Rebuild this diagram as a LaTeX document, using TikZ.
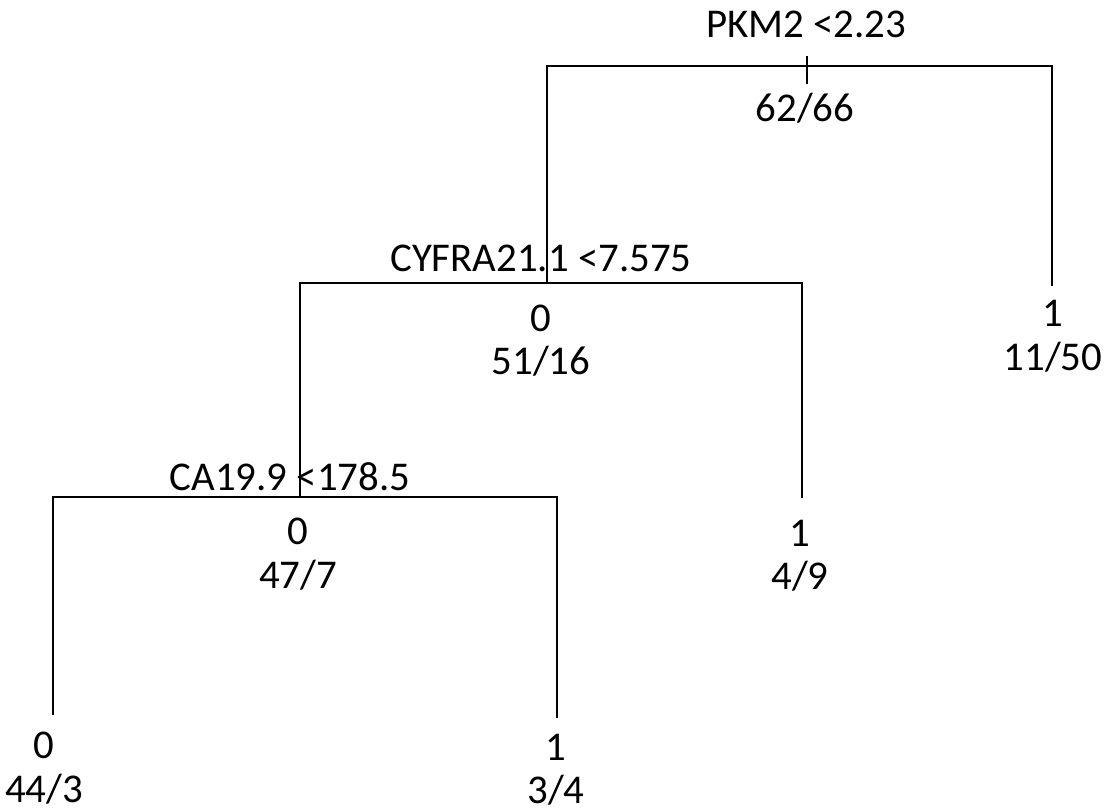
\documentclass[tikz,border=0pt]{standalone}
\usepackage{fontspec}
\setmainfont{Carlito}
\begin{document}
\begin{tikzpicture}[x=1bp,y=-1bp,
  lbl/.style={inner sep=0pt, anchor=base, font=\fontsize{41}{49}\selectfont},
  edge/.style={line width=1.3bp, line cap=rect}]
\useasboundingbox (0,0) rectangle (1109,812);
% root
\node[lbl] (rootsplit) at (806,38) {PKM2 <2.23};
\node[lbl] (rootcnt) at (805,121) {62/66};
\coordinate (rstemT) at (807,57);
\coordinate (rstemB) at (807,83);
\coordinate (rL) at (547,66);
\coordinate (rR) at (1052,66);
% right leaf of root
\coordinate (leafA) at (1052,285);
\node[lbl] (leafAcls) at (1053,326) {1};
\node[lbl] (leafAcnt) at (1053,370) {11/50};
% CYFRA node
\coordinate (cyT) at (547,283);
\node[lbl] (cysplit) at (541,271) {CYFRA21.1 <7.575};
\node[lbl] (cycls) at (541,331) {0};
\node[lbl] (cycnt) at (541,374) {51/16};
\coordinate (cL) at (300,283);
\coordinate (cR) at (802,283);
% right leaf of CYFRA
\coordinate (leafB) at (802,497);
\node[lbl] (leafBcls) at (800,546) {1};
\node[lbl] (leafBcnt) at (800,589) {4/9};
% CA19.9 node
\coordinate (caT) at (300,497);
\node[lbl] (casplit) at (290,490) {CA19.9 <178.5};
\node[lbl] (cacls) at (298,544) {0};
\node[lbl] (cacnt) at (298,588) {47/7};
\coordinate (aL) at (53,497);
\coordinate (aR) at (557,497);
% leaves of CA19.9
\coordinate (leafC) at (53,714);
\node[lbl] (leafCcls) at (44,758) {0};
\node[lbl] (leafCcnt) at (44,802) {44/3};
\coordinate (leafD) at (557,717);
\node[lbl] (leafDcls) at (556,760) {1};
\node[lbl] (leafDcnt) at (556,803) {3/4};
% connectors
\draw[edge] (rstemT) -- (rstemB);
\draw[edge] (leafA) -- (rR) -- (rL) -- (cyT);
\draw[edge] (leafB) -- (cR) -- (cL) -- (caT);
\draw[edge] (leafD) -- (aR) -- (aL) -- (leafC);
\end{tikzpicture}
\end{document}
